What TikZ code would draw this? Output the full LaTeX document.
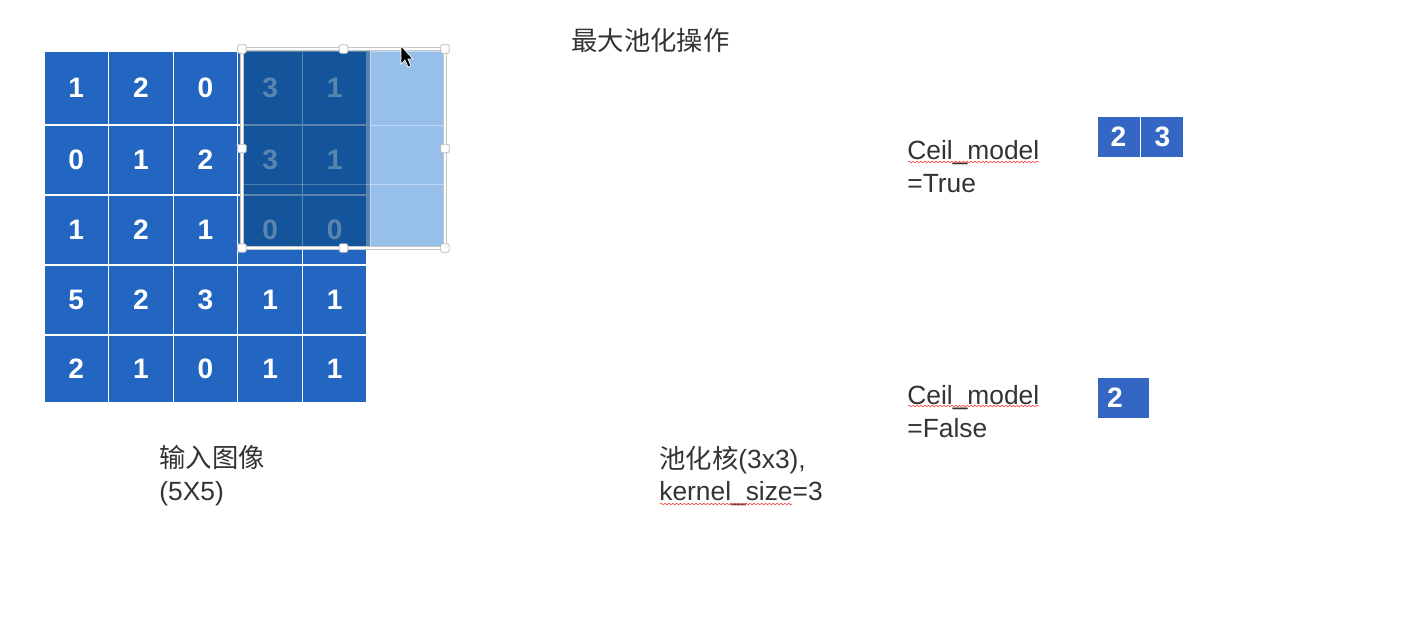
\documentclass[tikz,border=0pt]{standalone}
\usepackage{fontspec}
\setmainfont{Liberation Sans}
\newfontfamily\cjk{Noto Sans CJK SC}
\usetikzlibrary{positioning,decorations.pathmorphing}
\definecolor{inblue}{RGB}{34,102,194}
\definecolor{winblue}{RGB}{12,76,137}
\definecolor{lightwin}{RGB}{150,191,234}
\definecolor{outblue}{RGB}{52,102,196}
\definecolor{txtgray}{RGB}{51,51,51}
\tikzset{
  cell/.style={draw=white, line width=0.6pt, fill=inblue, text=white, minimum width=1.292cm, inner sep=0pt, font=\bfseries\fontsize{16}{16}\selectfont},
  handle/.style={draw=gray!55, fill=white, rounded corners=0.8pt, minimum size=0.17cm, inner sep=0pt, line width=0.4pt},
  outbox/.style={draw=white, line width=0.5pt, fill=outblue, text=white, minimum width=0.86cm, minimum height=0.82cm, inner sep=0pt, font=\bfseries\fontsize{16}{16}\selectfont},
  lbl/.style={align=left, text=txtgray, inner sep=0pt, font=\fontsize{15}{18.7}\selectfont},
  spell/.style={red!75, line width=0.35pt, decorate, decoration={snake, amplitude=0.45pt, segment length=2.2pt}}
}

\begin{document}
\begin{tikzpicture}[x=0.02cm,y=-0.02cm]
  \useasboundingbox (0,0) rectangle (1415,622);

  % input image 5x5
  \foreach \vals/\yc/\h [count=\r] in {{1,2,0,3,1}/88/1.48, {0,1,2,3,1}/160/1.40, {1,2,1,0,0}/230/1.40, {5,2,3,1,1}/300/1.40, {2,1,0,1,1}/369/1.36}
    \foreach \v [count=\c] in \vals
      \node[cell, minimum height=\h cm] (c\r\c) at ({44+64.6*(\c-0.5)},\yc) {\v};

  % pooling window
  \fill[winblue, opacity=0.68] (242,51) rectangle (370,248);
  \draw[white, opacity=0.25] (242,184) -- (370,184);
  \draw[white!40!lightwin, fill=lightwin] (370,51) rectangle (443,125);
  \draw[white!40!lightwin, fill=lightwin] (370,125) rectangle (443,184);
  \draw[white!40!lightwin, fill=lightwin] (370,184) rectangle (443,248);
  \draw[gray!45, line width=2.2pt] (242,49) rectangle (445,248);
  \draw[white, line width=1.4pt] (242,49) rectangle (445,248);
  \foreach \p [count=\i] in {(242,49),(343.5,49),(445,49),(242,148.5),(445,148.5),(242,248),(343.5,248),(445,248)}
    \node[handle] (h\i) at \p {};
  \filldraw[black, draw=white, line width=0.4pt] (401,46) -- (401,64) -- (405,60) -- (408,67) -- (411,66) -- (408,59) -- (413,59) -- cycle;

  % texts
  \node[lbl, anchor=west] (title) at (571,40) {{\cjk 最大池化操作}};
  \node[lbl, anchor=west] (inp) at (159,476) {{\cjk 输入图像}\\(5X5)};
  \node[lbl, anchor=west] (ker) at (659,476) {{\cjk 池化核}(3x3),\\kernel\_size=3};
  \node[lbl, anchor=west] (ct) at (907,166.5) {Ceil\_model\\=True};
  \node[lbl, anchor=west] (cf) at (907,411.5) {Ceil\_model\\=False};
  \draw[spell] (908,162) -- (1039,162);
  \draw[spell] (908,406) -- (1039,406);
  \draw[spell] (660,504) -- (792,504);

  % outputs
  \node[outbox] (t1) at (1118.5,136.5) {2};
  \node[outbox, right=0pt of t1] (t2) {3};
  \node[outbox, minimum width=1.04cm, text width=0.64cm, inner xsep=0.2cm, align=left] (f1) at (1123,397.5) {2};
\end{tikzpicture}
\end{document}
